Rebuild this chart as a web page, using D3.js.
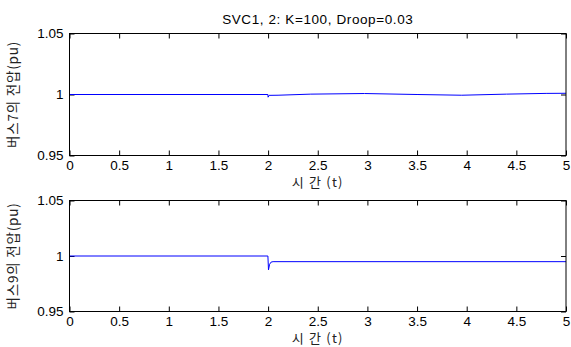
<!DOCTYPE html>
<html>
<head>
<meta charset="utf-8">
<script src="https://cdn.jsdelivr.net/npm/d3@7"></script>
<style>
  body { margin: 0; background: #fff; }
  svg { display: block; }
  .tick text { font-family: "Liberation Sans", Arial, sans-serif; font-size: 13.5px; fill: #000; }
  .lbl { font-family: "Noto Sans CJK KR", "Liberation Sans", sans-serif; font-size: 13.5px; fill: #222; }
</style>
</head>
<body>
<div id="chart"></div>
<script>
// tick values
const timeTicks = [0, 0.5, 1, 1.5, 2, 2.5, 3, 3.5, 4, 4.5, 5];
const voltTicks = [0.95, 1, 1.05];

// bus 7 voltage
const bus7Time = [0, 1.998, 2.0, 2.01, 2.1, 2.43, 2.97, 3.5, 3.95, 4.4, 4.8, 5];
const bus7Volt = [1.0, 1.0, 0.9978, 0.9993, 0.9994, 1.0003, 1.0008, 1.0, 0.9994, 1.0003, 1.0009, 1.001];

// bus 9 voltage
const bus9Time = [0, 1.998, 2.004, 2.015, 2.03, 2.05, 5];
const bus9Volt = [1.0, 1.0, 0.9875, 0.9925, 0.9945, 0.9949, 0.9949];

const width = 571, height = 347;
const left = 69.5, right = 566;

const svg = d3.select("#chart").append("svg")
  .attr("width", width)
  .attr("height", height);

const x = d3.scaleLinear().domain([0, 5]).range([left, right]);

svg.append("text")
  .attr("x", (left + right) / 2)
  .attr("y", 24)
  .attr("text-anchor", "middle")
  .style("font-family", "'Liberation Sans', Arial, sans-serif")
  .style("font-size", "13.5px")
  .style("letter-spacing", "0.6px")
  .text("SVC1, 2: K=100, Droop=0.03");

function drawPanel(top, bottom, times, volts, yLabel) {
  const y = d3.scaleLinear().domain([0.95, 1.05]).range([bottom, top]);
  const g = svg.append("g");

  // bottom axis, ticks pointing in
  g.append("g")
    .attr("transform", "translate(0," + bottom + ")")
    .call(d3.axisBottom(x).tickValues(timeTicks).tickFormat(d3.format("")).tickSize(-5).tickSizeOuter(0).tickPadding(5))
    .call(a => a.select(".domain").remove());

  // top ticks without labels
  g.append("g")
    .attr("transform", "translate(0," + top + ")")
    .call(d3.axisTop(x).tickValues(timeTicks).tickFormat("").tickSize(-5).tickSizeOuter(0))
    .call(a => a.select(".domain").remove());

  g.append("g")
    .attr("transform", "translate(" + left + ",0)")
    .call(d3.axisLeft(y).tickValues(voltTicks).tickFormat(d3.format("")).tickSize(-5).tickSizeOuter(0).tickPadding(6))
    .call(a => a.select(".domain").remove());

  g.append("g")
    .attr("transform", "translate(" + right + ",0)")
    .call(d3.axisRight(y).tickValues(voltTicks).tickFormat("").tickSize(-5).tickSizeOuter(0))
    .call(a => a.select(".domain").remove());

  g.selectAll(".tick line").attr("stroke", "#000");

  const pts = times.map((t, i) => [t, volts[i]]);
  g.append("path")
    .datum(pts)
    .attr("fill", "none")
    .attr("stroke", "#0000ff")
    .attr("stroke-width", 1)
    .attr("d", d3.line().x(d => x(d[0])).y(d => y(d[1])));

  // frame
  g.append("rect")
    .attr("x", left).attr("y", top)
    .attr("width", right - left).attr("height", bottom - top)
    .attr("fill", "none")
    .attr("stroke", "#000");

  g.append("text")
    .attr("class", "lbl")
    .attr("transform", "translate(18," + (top + bottom) / 2 + ")rotate(-90)")
    .attr("text-anchor", "middle")
    .style("letter-spacing", "0.8px")
    .text(yLabel);

  g.append("text")
    .attr("class", "lbl")
    .attr("x", (left + right) / 2)
    .attr("y", bottom + 31.5)
    .attr("text-anchor", "middle")
    .style("font-size", "13px")
    .style("letter-spacing", "1.2px")
    .text("시 간 (t)");
}

drawPanel(33.5, 155.5, bus7Time, bus7Volt, "버스7의 전압(pu)");
drawPanel(200.5, 311.5, bus9Time, bus9Volt, "버스9의 전압(pu)");
</script>
</body>
</html>
